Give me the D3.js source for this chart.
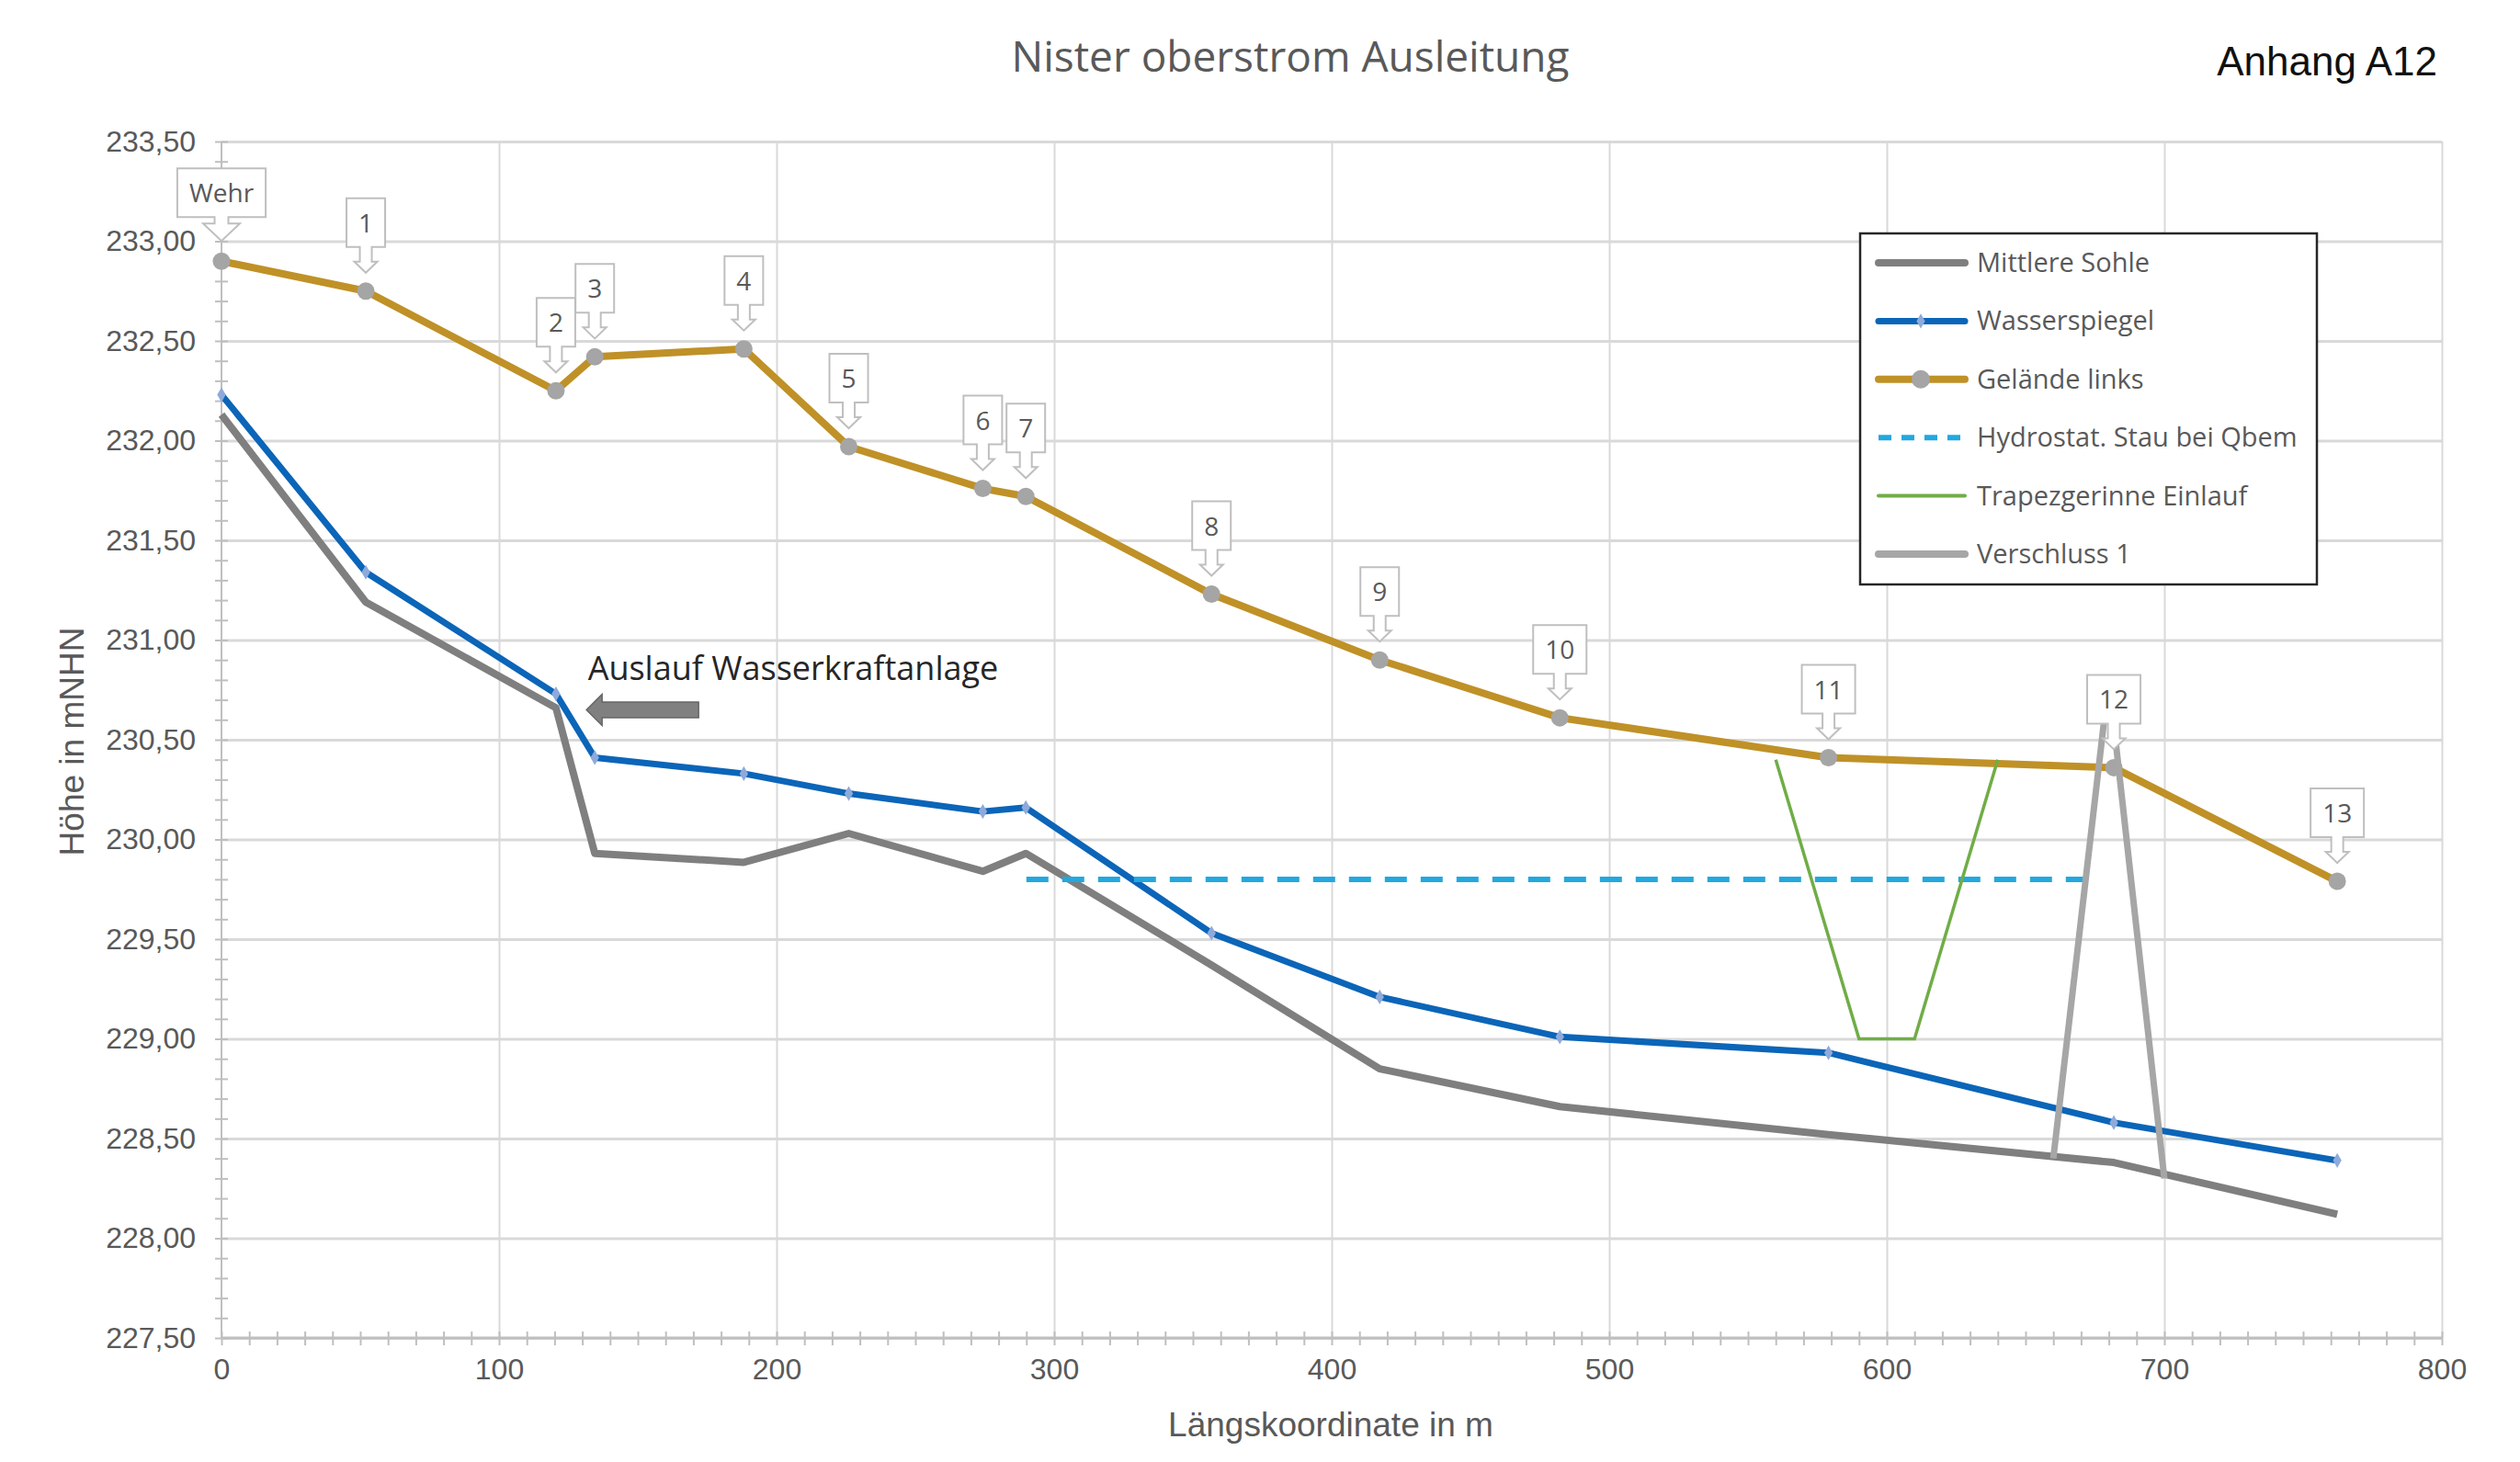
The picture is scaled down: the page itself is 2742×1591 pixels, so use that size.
<!DOCTYPE html>
<html>
<head>
<meta charset="utf-8">
<script src="https://cdn.jsdelivr.net/npm/d3@7"></script>
<style>
body { margin: 0; background: #ffffff; }
svg { display: block; }
</style>
</head>
<body>
<div id="canvas_a12"></div>
<script>
// ----------------------------------------------------------
// DATA -----------------------------------------------------
// ----------------------------------------------------------
// profile stations (Längskoordinate in m)
var stations = [0, 52, 120.5, 134.5, 188.2, 226, 274.3, 289.8, 356.7, 417.3, 482.2, 579, 681.8, 762.3];
// series values (m NHN)
var sohle    = [232.13, 231.19, 230.66, 229.93, 229.885, 230.03, 229.84, 229.93, 229.37, 228.85, 228.66, 228.52, 228.38, 228.12];
var wasser   = [232.23, 231.34, 230.73, 230.41, 230.33, 230.23, 230.14, 230.16, 229.53, 229.21, 229.01, 228.93, 228.58, 228.39];
var gelaende = [232.90, 232.75, 232.25, 232.42, 232.46, 231.97, 231.76, 231.72, 231.23, 230.90, 230.61, 230.41, 230.36, 229.79];
var point_labels = ["Wehr", "1", "2", "3", "4", "5", "6", "7", "8", "9", "10", "11", "12", "13"];
// extra series
var stau_x = [290, 676];
var stau_y = [229.80, 229.80];
var trapez_x = [560, 590, 610, 640];
var trapez_y = [230.40, 229.00, 229.00, 230.40];
var verschluss_x = [660, 680, 700];
var verschluss_y = [228.40, 230.80, 228.30];
// axes
var x_ticks = [0, 100, 200, 300, 400, 500, 600, 700, 800];
var y_ticks = [227.5, 228.0, 228.5, 229.0, 229.5, 230.0, 230.5, 231.0, 231.5, 232.0, 232.5, 233.0, 233.5];
// legend
var legend_labels = ["Mittlere Sohle", "Wasserspiegel", "Gelände links", "Hydrostat. Stau bei Qbem", "Trapezgerinne Einlauf", "Verschluss 1"];
// annotation
var auslauf_text = "Auslauf Wasserkraftanlage";
var auslauf_arrow = [131.5, 230.65];
var auslauf_label = [132, 230.80];
// texts
var text_title = "Nister oberstrom Ausleitung";
var text_anhang = "Anhang A12";
var text_x_axis = "Längskoordinate in m";
var text_y_axis = "Höhe in mNHN";


// ----------------------------------------------------------
// STYLE ----------------------------------------------------
// ----------------------------------------------------------
var cfg = {
width: 2742,
height: 1591,
plot_left: 241,
plot_right: 2657,
plot_top: 154,
plot_bottom: 1456,
font_calibri: "'Open Sans', 'DejaVu Sans', sans-serif",
font_arial: "'Liberation Sans', Arial, sans-serif",
color_text: "#595959",
color_grid: "#d9d9d9",
color_axis: "#bfbfbf",
color_sohle: "#7f7f7f",
color_wasser: "#0b65b8",
color_wasser_marker: "#8eaadb",
color_gelaende: "#bf9127",
color_gelaende_marker: "#a5a5a5",
color_stau: "#22a8df",
color_trapez: "#70ad47",
color_verschluss: "#a6a6a6"
};


// ----------------------------------------------------------
// STRUCTURE ------------------------------------------------
// ----------------------------------------------------------
var svg = d3.select("#canvas_a12").append("svg")
.attr("width", cfg.width)
.attr("height", cfg.height)
.style("background-color", "#ffffff");

var xScale = d3.scaleLinear()
.domain([0, 800])
.range([cfg.plot_left, cfg.plot_right]);

var yScale = d3.scaleLinear()
.domain([227.5, 233.5])
.range([cfg.plot_bottom, cfg.plot_top]);

var de = d3.formatLocale({ decimal: ",", thousands: ".", grouping: [3], currency: ["", " €"] });
var fmt_y = de.format(".2f");

var grid_group = svg.append("g").attr("class", "grid_group");
var axis_group = svg.append("g").attr("class", "axis_group");
var gfx_group = svg.append("g").attr("class", "gfx_group");
var callout_group = svg.append("g").attr("class", "callout_group");
var legend_group = svg.append("g").attr("class", "legend_group");
var text_group = svg.append("g").attr("class", "text_group");


// ----------------------------------------------------------
// GRID + AXES ----------------------------------------------
// ----------------------------------------------------------
// horizontal gridlines
grid_group.append("g")
.attr("transform", "translate(" + cfg.plot_left + ",0)")
.call(d3.axisRight(yScale)
.tickValues(y_ticks)
.tickSize(cfg.plot_right - cfg.plot_left)
.tickFormat(""))
.call(function(g) {
g.select(".domain").remove();
g.selectAll(".tick line").attr("stroke", cfg.color_grid).attr("stroke-width", 3);
});

// vertical gridlines
grid_group.append("g")
.attr("transform", "translate(0," + cfg.plot_top + ")")
.call(d3.axisBottom(xScale)
.tickValues(x_ticks.slice(1))
.tickSize(cfg.plot_bottom - cfg.plot_top)
.tickFormat(""))
.call(function(g) {
g.select(".domain").remove();
g.selectAll(".tick line").attr("stroke", cfg.color_grid).attr("stroke-width", 2);
});

// y axis - minor ticks crossing the axis line
axis_group.append("g")
.attr("transform", "translate(" + (cfg.plot_left + 7) + ",0)")
.call(d3.axisLeft(yScale).ticks(60).tickSize(14).tickFormat(""))
.call(function(g) {
g.select(".domain").remove();
g.selectAll(".tick line").attr("stroke", cfg.color_axis).attr("stroke-width", 2);
});
axis_group.append("line")
.attr("x1", cfg.plot_left).attr("x2", cfg.plot_left)
.attr("y1", cfg.plot_top).attr("y2", cfg.plot_bottom)
.attr("stroke", cfg.color_axis).attr("stroke-width", 2);

// y axis labels
axis_group.append("g")
.attr("transform", "translate(" + cfg.plot_left + ",0)")
.call(d3.axisLeft(yScale).tickValues(y_ticks).tickSize(0).tickPadding(28)
.tickFormat(function(d) { return fmt_y(d); }))
.call(function(g) {
g.select(".domain").remove();
g.selectAll(".tick text")
.style("font-family", cfg.font_arial)
.style("font-size", "32px")
.attr("fill", cfg.color_text);
});

// x axis - minor ticks crossing the axis line
axis_group.append("g")
.attr("transform", "translate(0," + (cfg.plot_bottom - 7) + ")")
.call(d3.axisBottom(xScale).ticks(80).tickSize(15).tickFormat(""))
.call(function(g) {
g.select(".domain").remove();
g.selectAll(".tick line").attr("stroke", cfg.color_axis).attr("stroke-width", 2);
});
axis_group.append("line")
.attr("x1", cfg.plot_left).attr("x2", cfg.plot_right)
.attr("y1", cfg.plot_bottom).attr("y2", cfg.plot_bottom)
.attr("stroke", cfg.color_axis).attr("stroke-width", 3);

// x axis labels
axis_group.append("g")
.attr("transform", "translate(0," + cfg.plot_bottom + ")")
.call(d3.axisBottom(xScale).tickValues(x_ticks).tickSize(0).tickPadding(22)
.tickFormat(d3.format("d")))
.call(function(g) {
g.select(".domain").remove();
g.selectAll(".tick text")
.style("font-family", cfg.font_arial)
.style("font-size", "32px")
.attr("fill", cfg.color_text);
});


// ----------------------------------------------------------
// GFX ------------------------------------------------------
// ----------------------------------------------------------
var line = d3.line()
.x(function(d) { return xScale(d[0]); })
.y(function(d) { return yScale(d[1]); });

var sohle_pts = d3.zip(stations, sohle);
var wasser_pts = d3.zip(stations, wasser);
var gelaende_pts = d3.zip(stations, gelaende);

// Mittlere Sohle
gfx_group.append("path")
.attr("d", line(sohle_pts))
.attr("fill", "none")
.attr("stroke", cfg.color_sohle)
.attr("stroke-width", 8)
.attr("stroke-linejoin", "round");

// Wasserspiegel
gfx_group.append("path")
.attr("d", line(wasser_pts))
.attr("fill", "none")
.attr("stroke", cfg.color_wasser)
.attr("stroke-width", 7)
.attr("stroke-linejoin", "round");
gfx_group.selectAll(".wasser_marker")
.data(wasser_pts)
.enter().append("path")
.attr("class", "wasser_marker")
.attr("transform", function(d) { return "translate(" + xScale(d[0]) + "," + yScale(d[1]) + ")"; })
.attr("d", d3.symbol().type(d3.symbolDiamond).size(75))
.attr("fill", cfg.color_wasser_marker);

// Gelände links
gfx_group.append("path")
.attr("d", line(gelaende_pts))
.attr("fill", "none")
.attr("stroke", cfg.color_gelaende)
.attr("stroke-width", 8)
.attr("stroke-linejoin", "round");
gfx_group.selectAll(".gelaende_marker")
.data(gelaende_pts)
.enter().append("circle")
.attr("class", "gelaende_marker")
.attr("cx", function(d) { return xScale(d[0]); })
.attr("cy", function(d) { return yScale(d[1]); })
.attr("r", 9.5)
.attr("fill", cfg.color_gelaende_marker);

// Hydrostat. Stau bei Qbem
gfx_group.append("path")
.attr("d", line(d3.zip(stau_x, stau_y)))
.attr("fill", "none")
.attr("stroke", cfg.color_stau)
.attr("stroke-width", 6)
.attr("stroke-dasharray", "24,15");

// Trapezgerinne Einlauf
gfx_group.append("path")
.attr("d", line(d3.zip(trapez_x, trapez_y)))
.attr("fill", "none")
.attr("stroke", cfg.color_trapez)
.attr("stroke-width", 3.5);

// Verschluss 1
gfx_group.append("path")
.attr("d", line(d3.zip(verschluss_x, verschluss_y)))
.attr("fill", "none")
.attr("stroke", cfg.color_verschluss)
.attr("stroke-width", 7);


// ----------------------------------------------------------
// CALLOUTS -------------------------------------------------
// ----------------------------------------------------------
gelaende_pts.forEach(function(d, i) {
var cx = xScale(d[0]);
var py = yScale(d[1]);
var g = callout_group.append("g");
var label = g.append("text")
.attr("x", cx)
.attr("text-anchor", "middle")
.style("font-family", cfg.font_calibri)
.style("font-size", "28px")
.attr("fill", cfg.color_text)
.text(point_labels[i]);
var w = Math.max(40, label.node().getComputedTextLength() + 26);
var big = w > 80;
var bottom = py - 48, top = bottom - 53;
var shaft = big ? 7.5 : 6.5, head = big ? 20 : 12.5;
var neck = bottom + (big ? 7 : 16), tip = py - (big ? 22 : 20);
var p = [
[cx - w / 2, top], [cx + w / 2, top], [cx + w / 2, bottom],
[cx + shaft, bottom], [cx + shaft, neck], [cx + head, neck],
[cx, tip],
[cx - head, neck], [cx - shaft, neck], [cx - shaft, bottom],
[cx - w / 2, bottom]
];
g.insert("path", "text")
.attr("d", "M" + p.join("L") + "Z")
.attr("fill", "#ffffff")
.attr("stroke", cfg.color_axis)
.attr("stroke-width", 2);
label.attr("y", (top + bottom) / 2 + 10.5);
});

// annotation "Auslauf Wasserkraftanlage"
var ax = xScale(auslauf_arrow[0]), ay = yScale(auslauf_arrow[1]);
var arrow_pts = [
[ax, ay], [ax + 17, ay - 17], [ax + 17, ay - 8.5], [ax + 122, ay - 8.5],
[ax + 122, ay + 8.5], [ax + 17, ay + 8.5], [ax + 17, ay + 17]
];
callout_group.append("path")
.attr("d", "M" + arrow_pts.join("L") + "Z")
.attr("fill", "#808080")
.attr("stroke", "#666666")
.attr("stroke-width", 1.5);
callout_group.append("text")
.attr("x", xScale(auslauf_label[0]))
.attr("y", yScale(auslauf_label[1]))
.style("font-family", cfg.font_calibri)
.style("font-size", "36px")
.attr("fill", "#262626")
.text(auslauf_text);


// ----------------------------------------------------------
// LEGEND ---------------------------------------------------
// ----------------------------------------------------------
legend_group.append("rect")
.attr("x", 2024).attr("y", 254)
.attr("width", 497).attr("height", 382)
.attr("fill", "#ffffff")
.attr("stroke", "#262626")
.attr("stroke-width", 2.5);

var legend_styles = [
{ color: cfg.color_sohle, width: 8, dash: null, marker: null },
{ color: cfg.color_wasser, width: 7, dash: null, marker: "diamond" },
{ color: cfg.color_gelaende, width: 8, dash: null, marker: "circle" },
{ color: cfg.color_stau, width: 6, dash: "14,11", marker: null },
{ color: cfg.color_trapez, width: 4, dash: null, marker: null },
{ color: cfg.color_verschluss, width: 8, dash: null, marker: null }
];

legend_labels.forEach(function(lab, i) {
var y = 286 + i * 63.4;
var s = legend_styles[i];
legend_group.append("line")
.attr("x1", 2044).attr("x2", 2138)
.attr("y1", y).attr("y2", y)
.attr("stroke", s.color)
.attr("stroke-width", s.width)
.attr("stroke-linecap", s.dash ? "butt" : "round")
.attr("stroke-dasharray", s.dash);
if (s.marker === "circle") {
legend_group.append("circle")
.attr("cx", 2090).attr("cy", y).attr("r", 10)
.attr("fill", cfg.color_gelaende_marker);
}
if (s.marker === "diamond") {
legend_group.append("path")
.attr("transform", "translate(2090," + y + ")")
.attr("d", d3.symbol().type(d3.symbolDiamond).size(75))
.attr("fill", cfg.color_wasser_marker);
}
legend_group.append("text")
.attr("x", 2151)
.attr("y", y + 10)
.style("font-family", cfg.font_calibri)
.style("font-size", "29px")
.attr("fill", cfg.color_text)
.text(lab);
});


// ----------------------------------------------------------
// TEXT -----------------------------------------------------
// ----------------------------------------------------------
text_group.append("text")
.attr("x", 1404)
.attr("y", 78)
.attr("text-anchor", "middle")
.style("font-family", cfg.font_calibri)
.style("font-size", "46px")
.attr("fill", cfg.color_text)
.text(text_title);

text_group.append("text")
.attr("x", 2652)
.attr("y", 82)
.attr("text-anchor", "end")
.style("font-family", cfg.font_arial)
.style("font-size", "44px")
.attr("fill", "#111111")
.text(text_anhang);

text_group.append("text")
.attr("x", 1448)
.attr("y", 1563)
.attr("text-anchor", "middle")
.style("font-family", cfg.font_arial)
.style("font-size", "37px")
.attr("fill", cfg.color_text)
.text(text_x_axis);

text_group.append("text")
.attr("transform", "translate(91,807) rotate(-90)")
.attr("text-anchor", "middle")
.style("font-family", cfg.font_arial)
.style("font-size", "37px")
.attr("fill", cfg.color_text)
.text(text_y_axis);
</script>
</body>
</html>
